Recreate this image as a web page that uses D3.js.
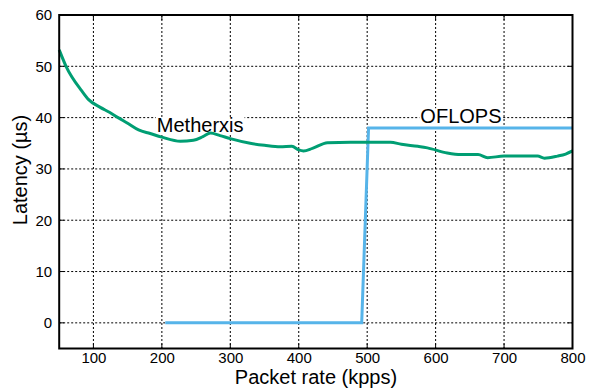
<!DOCTYPE html>
<html><head><meta charset="utf-8">
<script src="https://cdn.jsdelivr.net/npm/d3@7"></script>
<style>body{margin:0;background:#fff}text{font-family:"Liberation Sans",Arial,sans-serif}</style>
</head><body><svg id="c" width="593" height="388"></svg>
<script>
const metherxisX = [50,60,83,93,110,124,136,150,166,183,200,227,246,260,271,285,300,329,350,373,390,400,407,420,442,476,500,534,550,574,588,617,637,662,676,700,725,749,759,778,790,800];
const metherxisY = [53.2,50,45.2,43.5,42.0,41.0,40.0,38.9,37.6,36.9,36.2,35.4,35.6,36.3,37.0,36.5,35.9,35.0,34.6,34.3,34.4,33.7,33.5,34.0,35.1,35.2,35.2,35.2,34.8,34.4,34.1,33.1,32.8,32.8,32.2,32.5,32.5,32.5,32.1,32.5,32.9,33.5];
const oflopsX = [205,492,502,800];
const oflopsY = [0,0,38,38];
const xTicks = [100,200,300,400,500,600,700,800];
const yTicks = [0,10,20,30,40,50,60];
const labels = [{text:"Metherxis", x:256, y:37.2},{text:"OFLOPS", x:637, y:38.9}];

const svg = d3.select("#c");
const L=59.2, R=572.5, T=15, B=348.5;
const x = d3.scaleLinear().domain([50,800]).range([L,R]);
const y = d3.scaleLinear().domain([-5,60]).range([B,T]);

const g = svg.append("g");
// grid
g.selectAll(".vg").data(xTicks.filter(d=>d<800)).enter().append("line")
 .attr("x1",d=>x(d)).attr("x2",d=>x(d)).attr("y1",T).attr("y2",B)
 .attr("stroke","#000").attr("stroke-width",1).attr("stroke-dasharray","2,2");
g.selectAll(".hg").data(yTicks.filter(d=>d<60)).enter().append("line")
 .attr("y1",d=>y(d)).attr("y2",d=>y(d)).attr("x1",L).attr("x2",R)
 .attr("stroke","#000").attr("stroke-width",1).attr("stroke-dasharray","2,2");

// labels with white boxes
labels.forEach(l=>{
  const t = svg.append("text").attr("x",x(l.x)).attr("y",y(l.y)).attr("text-anchor","middle")
   .attr("font-size",20).text(l.text);
  const bb = t.node().getBBox();
  svg.insert("rect","text").attr("x",bb.x-1).attr("y",bb.y+3).attr("width",bb.width+2).attr("height",bb.height-5).attr("fill","#fff");
});

const line = d3.line().x(d=>x(d[0])).y(d=>y(d[1]));
svg.append("path").datum(oflopsX.map((v,i)=>[v,oflopsY[i]])).attr("d",line)
 .attr("fill","none").attr("stroke","#56B4E9").attr("stroke-width",3);
svg.append("path").datum(metherxisX.map((v,i)=>[v,metherxisY[i]])).attr("d",d3.line().curve(d3.curveMonotoneX).x(d=>x(d[0])).y(d=>y(d[1])))
 .attr("fill","none").attr("stroke","#009E73").attr("stroke-width",3);

// axes
const xa = svg.append("g").attr("transform",`translate(0,${B})`)
 .call(d3.axisBottom(x).tickValues(xTicks).tickSize(0).tickPadding(4));
const ya = svg.append("g").attr("transform",`translate(${L},0)`)
 .call(d3.axisLeft(y).tickValues(yTicks).tickSize(0).tickPadding(7));
[xa,ya].forEach(a=>{a.select(".domain").remove();a.selectAll("text").attr("font-size",15).attr("fill","#000").attr("font-family","Liberation Sans, Arial, sans-serif");});
// inward ticks
svg.selectAll(".rt").data(yTicks).enter().append("line").attr("x1",R).attr("x2",R-5).attr("y1",d=>y(d)).attr("y2",d=>y(d)).attr("stroke","#000");
svg.selectAll(".lt").data(yTicks).enter().append("line").attr("x1",L).attr("x2",L+5).attr("y1",d=>y(d)).attr("y2",d=>y(d)).attr("stroke","#000");
svg.selectAll(".bt").data(xTicks).enter().append("line").attr("y1",B).attr("y2",B-5).attr("x1",d=>x(d)).attr("x2",d=>x(d)).attr("stroke","#000");
svg.selectAll(".tt").data(xTicks).enter().append("line").attr("y1",T).attr("y2",T+5).attr("x1",d=>x(d)).attr("x2",d=>x(d)).attr("stroke","#000");
svg.append("rect").attr("x",L).attr("y",T).attr("width",R-L).attr("height",B-T).attr("fill","none").attr("stroke","#000").attr("stroke-width",2);

svg.append("text").attr("x",316).attr("y",384).attr("text-anchor","middle").attr("font-size",20).text("Packet rate (kpps)");
svg.append("text").attr("transform",`translate(27,170) rotate(-90)`).attr("text-anchor","middle").attr("font-size",20).text("Latency (µs)");
</script></body></html>
